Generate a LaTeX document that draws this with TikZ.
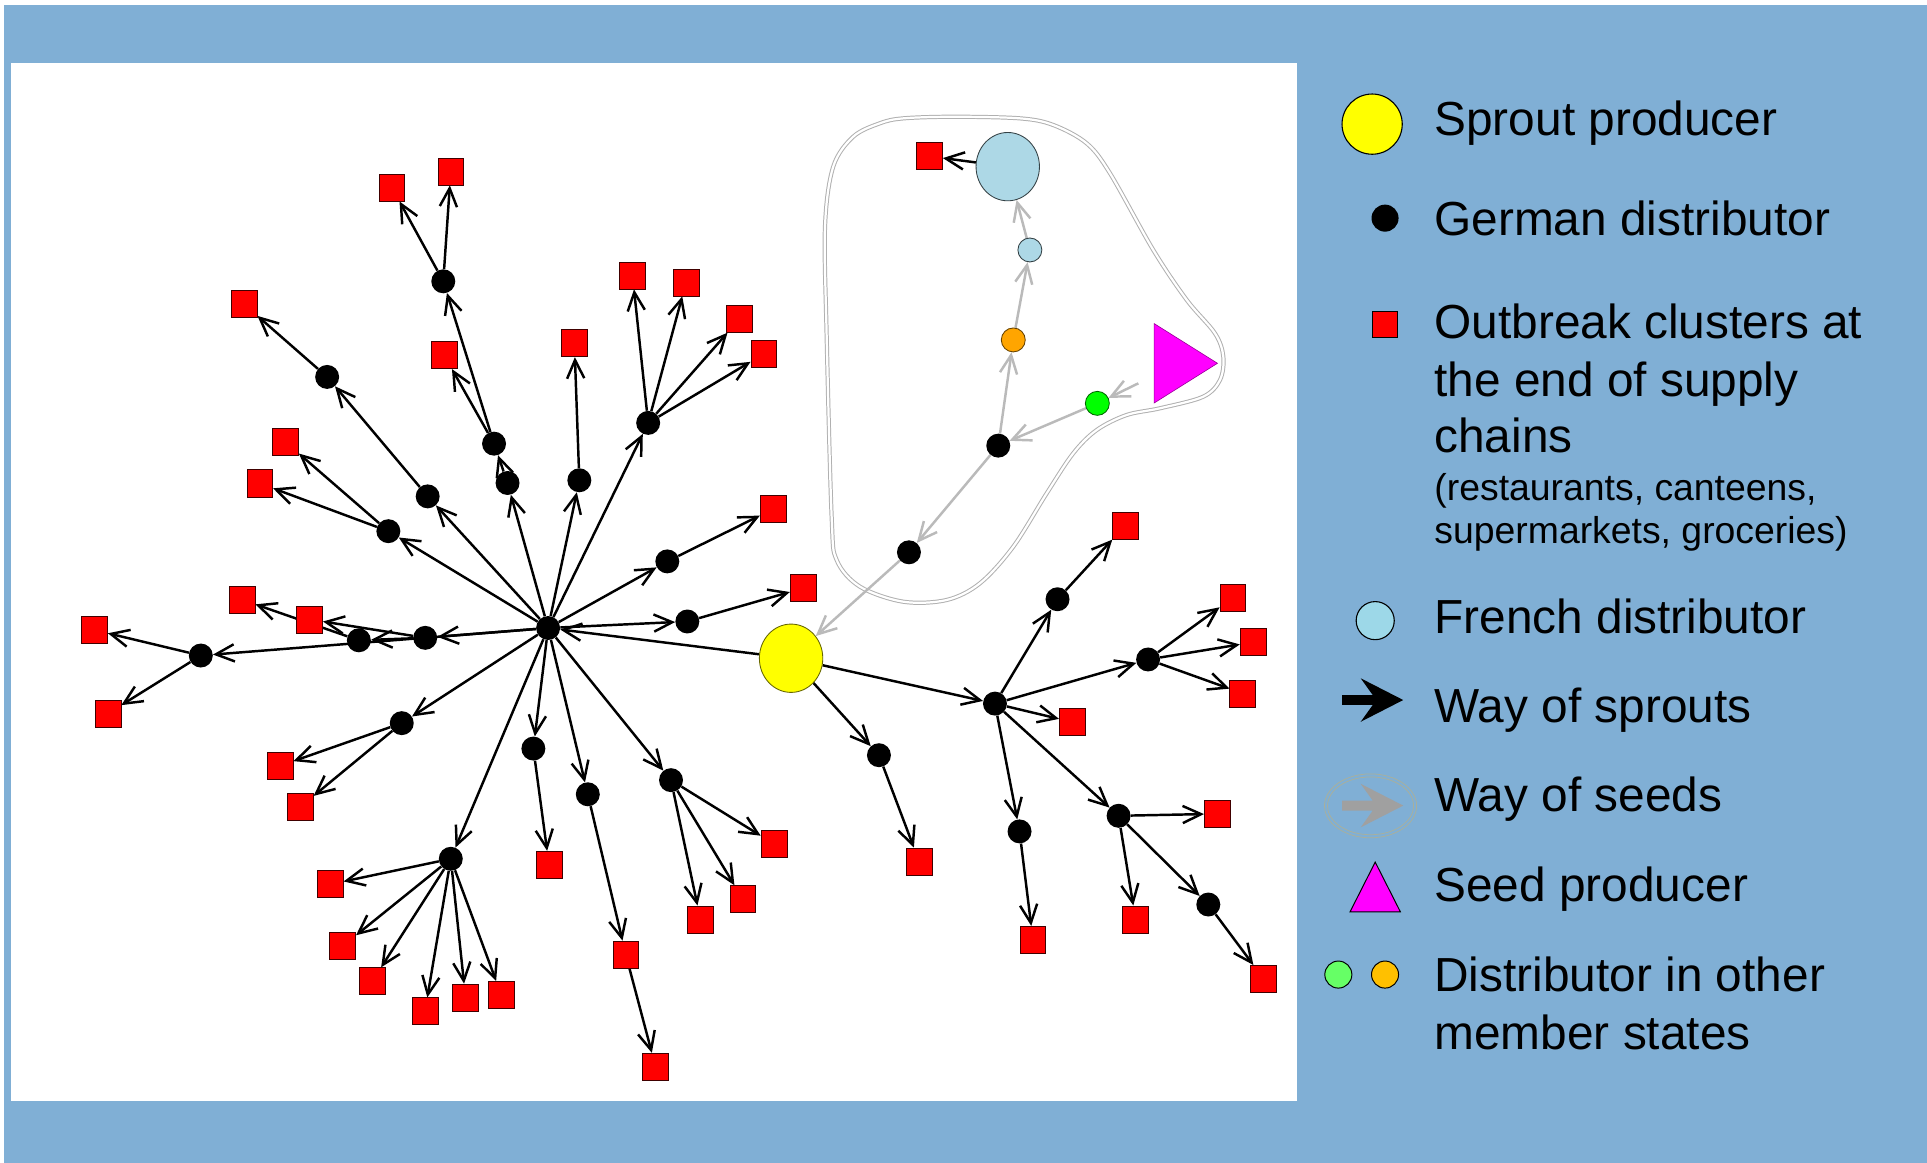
\documentclass[tikz,border=0pt]{standalone}
\usepackage{fontspec}
\setmainfont{Liberation Sans}
\usetikzlibrary{arrows.meta,shapes.geometric}
\definecolor{frame}{HTML}{80AFD5}
\definecolor{seedgray}{HTML}{BABABA}
\definecolor{loopgray}{HTML}{B0B0B0}
\definecolor{frblue}{HTML}{ADD8E6}
\definecolor{sproutyellow}{RGB}{255,255,0}
\definecolor{clusterred}{RGB}{255,0,0}
\definecolor{seedmagenta}{RGB}{255,0,255}
\definecolor{netorange}{HTML}{FFA500}
\definecolor{netgreen}{RGB}{0,255,0}
\definecolor{legfr}{HTML}{9DD8E8}
\definecolor{leggreen}{HTML}{66FF66}
\definecolor{legorange}{HTML}{FFC000}
\definecolor{legseed}{HTML}{A0A0A0}
\definecolor{legring}{HTML}{A9AF9C}
\pgfdeclarelayer{back}
\pgfdeclarelayer{edges}
\pgfsetlayers{back,edges,main}
\begin{document}
\begin{tikzpicture}[x=1pt,y=-1pt,
  dist/.style={circle,fill=black,inner sep=0pt,minimum size=19.5pt},
  cluster/.style={rectangle,fill=clusterred,draw=black!75!red,line width=0.6pt,inner sep=0pt,minimum width=21pt,minimum height=22pt},
  bigdot/.style={ellipse,inner sep=0pt,minimum width=51.6pt,minimum height=55.6pt,line width=0.7pt},
  smalldot/.style={circle,inner sep=0pt,minimum size=19.5pt,line width=0.7pt},
  sprout/.style={draw=black,line width=2pt,-{Straight Barb[length=15pt,width=14pt]}},
  seed/.style={draw=seedgray,line width=2pt,-{Straight Barb[length=15pt,width=14pt]}},
  loopline/.style={draw=loopgray,line width=0.8pt,double=white,double distance=1.8pt},
  legtext/.style={anchor=base west,inner sep=0pt,font=\fontsize{38.9}{46}\selectfont},
  legsmall/.style={anchor=base west,inner sep=0pt,font=\fontsize{30.4}{36}\selectfont},
]
\useasboundingbox (0,0) rectangle (1568,946);

% frame, plotting panel and the seed trace outline
\begin{pgfonlayer}{back}
  \fill[white] (0,0) rectangle (1568,946);
  \fill[frame] (3,4) rectangle (1568,946);
  \fill[white] (9,51.5) rectangle (1055,896);
  \draw[loopline] plot[smooth cycle,tension=0.55] coordinates {
    (735,96.3) (775.7,95) (830,96.3) (857,101.7) (884.2,116.6) (903.2,141)
    (938.4,203.4) (965.6,244) (988.6,271.2) (995.4,290.2) (992.7,309.2)
    (979,322.8) (943.9,332.2) (916.7,337.7) (892.4,349.9) (873.3,368.8)
    (851.7,401.4) (824.5,444.8) (797.4,474.6) (770.3,488.2) (735,489.6)
    (699.8,477.4) (680.8,455.7) (676.7,420.4) (672.6,271.2) (671.3,184.5)
    (678,135.6) (694.3,111.2) (716,100.3)};
\end{pgfonlayer}

% producers and distributors outside Germany
\node[bigdot,fill=sproutyellow,draw=black!60!sproutyellow] (Y) at (643.7,535.6) {};
\node[bigdot,fill=frblue,draw=black!70!frblue] (frbig) at (820,135.6) {};
\node[smalldot,fill=frblue,draw=black!70!frblue] (frsmall) at (838,203.4) {};
\node[smalldot,fill=netorange,draw=black!60!netorange] (orng) at (824.5,276.6) {};
\node[smalldot,fill=netgreen,draw=black!60!netgreen] (grn) at (892.9,328.2) {};
\node[isosceles triangle,isosceles triangle stretches,minimum width=64.6pt,minimum height=51.5pt,
      inner sep=0pt,anchor=apex,fill=seedmagenta,draw=black!40!seedmagenta,line width=0.5pt] (seedprod) at (991.3,295.6) {};
\coordinate (seedout) at (926.3,311.9);

% German distributors
\node[dist] (H) at (446,511) {};
\node[dist] (d228) at (360.7,228.9) {};
\node[dist] (d306) at (266.2,306.7) {};
\node[dist] (d360) at (402,361) {};
\node[dist] (d393) at (413,393) {};
\node[dist] (d390) at (471.4,390.8) {};
\node[dist] (d344) at (527.4,344.1) {};
\node[dist] (d404) at (348,403.9) {};
\node[dist] (d432) at (316,432.2) {};
\node[dist] (d457) at (543,456.8) {};
\node[dist] (d505) at (559.3,505.7) {};
\node[dist] (d520) at (292,521) {};
\node[dist] (d518) at (346,519) {};
\node[dist] (d533) at (163.4,533.4) {};
\node[dist] (d588) at (326.9,588.4) {};
\node[dist] (d609) at (434,609.1) {};
\node[dist] (d646) at (478.3,646.3) {};
\node[dist] (d634) at (546,634.8) {};
\node[dist] (d698) at (366.8,698.8) {};
\node[dist] (d614) at (715.2,614.5) {};
\node[dist] (d450) at (739.6,449.4) {};
\node[dist] (d362) at (812.3,362.6) {};
\node[dist] (R) at (809.6,572.5) {};
\node[dist] (d487) at (860.5,487.6) {};
\node[dist] (d537) at (934.2,536.6) {};
\node[dist] (d676) at (829.6,676.5) {};
\node[dist] (d663) at (910.2,663.8) {};
\node[dist] (d736) at (983.2,736) {};

% outbreak clusters
\foreach \n/\p in {
  s1/{318.9,152.6}, s2/{366.8,139.5}, s3/{198.7,247.6}, s4/{361.4,289},
  s5/{467.4,279.3}, s6/{514.7,224.2}, s7/{558.2,229.8}, s8/{601.9,259.4},
  s9/{621.5,288}, s10/{232.4,359.7}, s11/{211.4,393.3}, s12/{629.1,414.2},
  s13/{653.5,478.6}, s14/{197,488}, s15/{252,504}, s16/{77,512.7},
  s17/{87.9,580.5}, s18/{228,623.1}, s19/{244.4,656.5}, s20/{268.8,719.5},
  s21/{278.9,769.7}, s22/{302.9,798.4}, s23/{345.8,822.9}, s24/{378.8,811.7},
  s25/{407.9,809.5}, s26/{446.7,703.6}, s27/{509.2,776.7}, s28/{533.4,868},
  s29/{569.9,748.1}, s30/{604.4,731.6}, s31/{629.8,686.7}, s32/{747.9,701},
  s33/{756.4,127.2}, s34/{915.4,427.8}, s35/{1003.2,486.3}, s36/{1019.6,522.6},
  s37/{1011.2,564.2}, s38/{872.5,587.5}, s39/{990.5,662.2}, s40/{924,748.1},
  s41/{840.5,764.7}, s42/{1028.3,796.5}}
  \node[cluster] (\n) at (\p) {};

% supply chains
\begin{pgfonlayer}{edges}
  \foreach \a/\b in {
    H/d393, d393/d360, d360/d228, d360/s4, d228/s1, d228/s2,
    H/d404, d404/d306, d306/s3,
    H/d432, d432/s10, d432/s11,
    H/d390, d390/s5,
    H/d344, d344/s6, d344/s7, d344/s8, d344/s9,
    H/d457, d457/s12,
    H/d505, d505/s13,
    H/d518, H/d533, d518/d520, d518/s15, d520/s14, d533/s16, d533/s17,
    H/d588, d588/s18, d588/s19,
    H/d698, d698/s20, d698/s21, d698/s22, d698/s23, d698/s24, d698/s25,
    H/d609, d609/s26,
    H/d646, d646/s27, s27/s28,
    H/d634, d634/s29, d634/s30, d634/s31,
    Y/H, Y/d614, d614/s32, Y/R,
    R/d487, d487/s34, R/d537, d537/s35, d537/s36, d537/s37, R/s38,
    R/d676, d676/s41, R/d663, d663/s39, d663/s40, d663/d736, d736/s42,
    frbig/s33}
    \draw[sprout] (\a) -- (\b);
  \foreach \a/\b in {
    seedout/grn, grn/d362, d362/orng, orng/frsmall, frsmall/frbig,
    d362/d450, d450/Y}
    \draw[seed] (\a) -- (\b);
\end{pgfonlayer}

% legend symbols
\node[circle,inner sep=0pt,minimum size=49pt,fill=sproutyellow,draw=black,line width=0.9pt] (kSprout) at (1116.5,101) {};
\node[circle,inner sep=0pt,minimum size=22pt,fill=black] (kGerman) at (1127,177.5) {};
\node[rectangle,inner sep=0pt,minimum size=21pt,fill=clusterred,draw=black,line width=0.8pt] (kCluster) at (1127,264) {};
\node[circle,inner sep=0pt,minimum size=31pt,fill=legfr,draw=black,line width=0.9pt] (kFrench) at (1119,505) {};
\fill[black] (1092,565.6) -- (1117,565.6) -- (1107.2,551.9) -- (1141.8,569.6)
  -- (1107.2,587.3) -- (1117,573.6) -- (1092,573.6) -- cycle;
\draw[legring,line width=0.6pt] (1115.2,655.7) ellipse [x radius=37.5pt,y radius=26pt];
\draw[legring,line width=0.6pt] (1115.2,655.7) ellipse [x radius=35pt,y radius=23.5pt];
\fill[legseed] (1092,651.5) -- (1117,651.5) -- (1107.2,637.8) -- (1141.8,655.5)
  -- (1107.2,673.2) -- (1117,659.5) -- (1092,659.5) -- cycle;
\filldraw[fill=seedmagenta,draw=black,line width=0.8pt] (1119,701.5) -- (1139.5,742) -- (1098.5,742) -- cycle;
\node[circle,inner sep=0pt,minimum size=22pt,fill=leggreen,draw=black,line width=0.8pt] (kGreen) at (1089,793) {};
\node[circle,inner sep=0pt,minimum size=22pt,fill=legorange,draw=black,line width=0.8pt] (kOrange) at (1127,793) {};

% legend texts
\node[legtext] (tSprout) at (1167,110.6) {Sprout producer};
\node[legtext] (tGerman) at (1167,191.5) {German distributor};
\node[legtext] (tOutA) at (1167,275.6) {Outbreak clusters at};
\node[legtext] (tOutB) at (1167,322.3) {the end of supply};
\node[legtext] (tOutC) at (1167,368.4) {chains};
\node[legsmall] (tOutD) at (1167,407.3) {(restaurants, canteens,};
\node[legsmall] (tOutE) at (1167,442.2) {supermarkets, groceries)};
\node[legtext] (tFrench) at (1167,515.1) {French distributor};
\node[legtext] (tSprWay) at (1167,587.7) {Way of sprouts};
\node[legtext] (tSeedWay) at (1167,660.6) {Way of seeds};
\node[legtext] (tSeedProd) at (1167,733.5) {Seed producer};
\node[legtext] (tOtherA) at (1167,806.8) {Distributor in other};
\node[legtext] (tOtherB) at (1167,853.7) {member states};
\end{tikzpicture}
\end{document}
